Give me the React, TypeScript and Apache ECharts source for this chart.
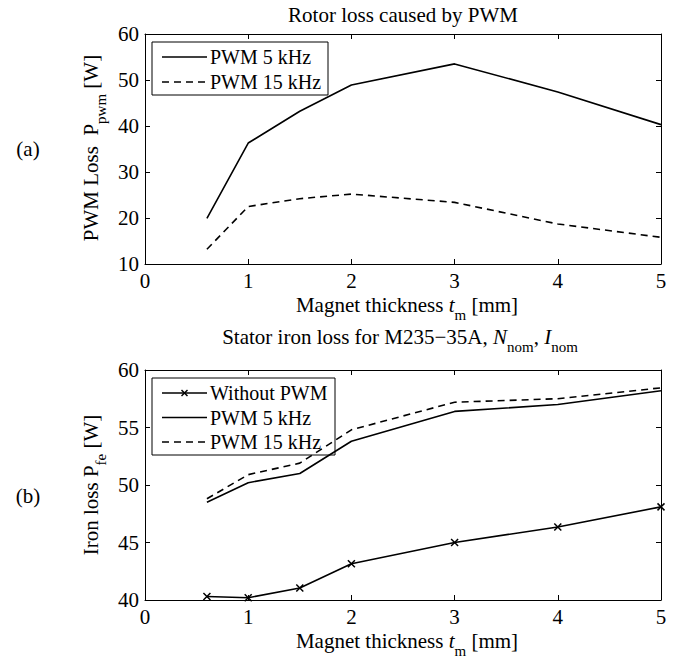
import React, { useEffect, useRef } from "react";
import * as echarts from "echarts";

const thickness = [0.6, 1, 1.5, 2, 3, 4, 5];
const rotorPwm5k = [19.9, 36.3, 43.2, 48.9, 53.5, 47.4, 40.3];
const rotorPwm15k = [13.2, 22.5, 24.2, 25.2, 23.4, 18.7, 15.8];
const ironWithout = [40.3, 40.2, 41.05, 43.15, 45.0, 46.35, 48.1];
const ironPwm5k = [48.5, 50.2, 51.0, 53.8, 56.4, 57.0, 58.2];
const ironPwm15k = [48.8, 50.9, 51.9, 54.8, 57.2, 57.5, 58.45];
const xTicks = [0, 1, 2, 3, 4, 5];
const rotorYRange = [10, 60, 10];
const ironYRange = [40, 60, 5];

const FONT = "Liberation Serif";

type Part = { t: string; it?: boolean; sub?: boolean };

const pairs = (xs: number[], ys: number[]) => xs.map((x, i) => [x, ys[i]]);

let measureCtx: CanvasRenderingContext2D | null = null;
function measure(text: string, size: number, italic: boolean) {
  if (!measureCtx) measureCtx = document.createElement("canvas").getContext("2d");
  if (!measureCtx) return text.length * size * 0.5;
  measureCtx.font = `${italic ? "italic " : ""}${size}px "${FONT}"`;
  return measureCtx.measureText(text).width;
}

function composed(cx: number, cy: number, parts: Part[], rotated: boolean, size = 21, subSize = 15, drop = 10) {
  const widths = parts.map((p) => measure(p.t, p.sub ? subSize : size, !!p.it));
  const total = widths.reduce((a, b) => a + b, 0);
  let s = -total / 2;
  const out: any[] = [];
  parts.forEach((p, i) => {
    const off = p.sub ? drop : 0;
    const x = rotated ? cx + off : cx + s;
    const y = rotated ? cy - s : cy + off;
    const fs = p.sub ? subSize : size;
    out.push({
      type: "text",
      x,
      y,
      rotation: rotated ? Math.PI / 2 : 0,
      style: {
        text: p.t,
        fill: "#000",
        fontFamily: FONT,
        fontSize: fs,
        lineHeight: Math.round(fs * 0.85),
        fontStyle: p.it ? "italic" : "normal",
        align: "left",
        verticalAlign: "middle",
      },
    });
    s += widths[i];
  });
  return out;
}

export default function App() {
  const ref = useRef<HTMLDivElement>(null);
  useEffect(() => {
    if (!ref.current) return;
    const chart = echarts.init(ref.current, undefined, { renderer: "svg" });
    const black = "#000";
    const tickFont = 21;
    const mkX = (gi: number, pos: "bottom" | "top", labels: boolean) => ({
      gridIndex: gi,
      type: "value",
      position: pos,
      min: xTicks[0],
      max: xTicks[xTicks.length - 1],
      interval: 1,
      axisLine: { show: true, onZero: false, lineStyle: { color: black, width: 1 } },
      axisTick: { show: true, inside: true, length: 5, lineStyle: { color: black } },
      axisLabel: { show: labels, color: black, fontFamily: FONT, fontSize: tickFont, lineHeight: 17, margin: 8 },
      splitLine: { show: false },
    });
    const mkY = (gi: number, pos: "left" | "right", labels: boolean, r: number[]) => ({
      gridIndex: gi,
      type: "value",
      position: pos,
      min: r[0],
      max: r[1],
      interval: r[2],
      axisLine: { show: true, onZero: false, lineStyle: { color: black, width: 1 } },
      axisTick: { show: true, inside: true, length: 5, lineStyle: { color: black } },
      axisLabel: { show: labels, color: black, fontFamily: FONT, fontSize: tickFont, lineHeight: 17, margin: 6 },
      splitLine: { show: false },
    });
    const lineSeries = (name: string, xi: number, yi: number, data: number[][], dashed: boolean, cross: boolean) => ({
      name,
      type: "line",
      xAxisIndex: xi,
      yAxisIndex: yi,
      data,
      symbol: cross ? "path://M0,0L10,10M10,0L0,10" : "none",
      symbolSize: 7,
      showSymbol: cross,
      itemStyle: { color: "none", borderColor: black, borderWidth: 1.5 },
      lineStyle: { color: black, width: 1.6, type: dashed ? [7, 5] : "solid" },
      z: 3,
    });

    const legendBox = (
      x: number,
      y: number,
      w: number,
      h: number,
      rows: { label: string; dashed: boolean; cross: boolean }[],
      firstY: number,
      step: number
    ) => {
      const children: any[] = [
        { type: "rect", shape: { x, y, width: w, height: h }, style: { fill: "#fff", stroke: black, lineWidth: 1 } },
      ];
      rows.forEach((r, i) => {
        const ry = firstY + i * step;
        children.push({
          type: "line",
          shape: { x1: x + 10, y1: ry, x2: x + 55, y2: ry },
          style: { stroke: black, lineWidth: 1.6, lineDash: r.dashed ? [7, 5] : null },
        });
        if (r.cross) {
          const cx = x + 32.5;
          children.push({
            type: "polyline",
            shape: { points: [[cx - 3, ry - 3], [cx + 3, ry + 3]] },
            style: { stroke: black, lineWidth: 1.5 },
          });
          children.push({
            type: "polyline",
            shape: { points: [[cx - 3, ry + 3], [cx + 3, ry - 3]] },
            style: { stroke: black, lineWidth: 1.5 },
          });
        }
        children.push({
          type: "text",
          x: x + 58,
          y: ry,
          style: { text: r.label, fill: black, fontFamily: FONT, fontSize: 20, lineHeight: 18, align: "left", verticalAlign: "middle" },
        });
      });
      return { type: "group", children };
    };

    chart.setOption({
      animation: false,
      grid: [
        { left: 145, top: 34, width: 516, height: 230 },
        { left: 145, top: 370, width: 516, height: 230 },
      ],
      xAxis: [mkX(0, "bottom", true), mkX(0, "top", false), mkX(1, "bottom", true), mkX(1, "top", false)],
      yAxis: [
        mkY(0, "left", true, rotorYRange),
        mkY(0, "right", false, rotorYRange),
        mkY(1, "left", true, ironYRange),
        mkY(1, "right", false, ironYRange),
      ],
      series: [
        lineSeries("PWM 5 kHz", 0, 0, pairs(thickness, rotorPwm5k), false, false),
        lineSeries("PWM 15 kHz", 0, 0, pairs(thickness, rotorPwm15k), true, false),
        lineSeries("Without PWM", 2, 2, pairs(thickness, ironWithout), false, true),
        lineSeries("PWM 5 kHz ", 2, 2, pairs(thickness, ironPwm5k), false, false),
        lineSeries("PWM 15 kHz ", 2, 2, pairs(thickness, ironPwm15k), true, false),
      ],
      graphic: [
        ...composed(403, 15, [{ t: "Rotor loss caused by PWM" }], false),
        ...composed(
          400,
          337,
          [
            { t: "Stator iron loss for M235−35A, " },
            { t: "N", it: true },
            { t: "nom", sub: true },
            { t: ", " },
            { t: "I", it: true },
            { t: "nom", sub: true },
          ],
          false
        ),
        ...composed(407, 305, [{ t: "Magnet thickness " }, { t: "t", it: true }, { t: "m", sub: true }, { t: " [mm]" }], false),
        ...composed(407, 641, [{ t: "Magnet thickness " }, { t: "t", it: true }, { t: "m", sub: true }, { t: " [mm]" }], false),
        ...composed(91, 148, [{ t: "PWM Loss  P" }, { t: "pwm", sub: true }, { t: " [W]" }], true),
        ...composed(91, 485, [{ t: "Iron loss P" }, { t: "fe", sub: true }, { t: " [W]" }], true),
        ...composed(28, 149, [{ t: "(a)" }], false),
        ...composed(28, 496, [{ t: "(b)" }], false),
        legendBox(
          152,
          42,
          176,
          53,
          [
            { label: "PWM 5 kHz", dashed: false, cross: false },
            { label: "PWM 15 kHz", dashed: true, cross: false },
          ],
          57,
          25
        ),
        legendBox(
          152,
          378,
          183,
          77,
          [
            { label: "Without PWM", dashed: false, cross: true },
            { label: "PWM 5 kHz", dashed: false, cross: false },
            { label: "PWM 15 kHz", dashed: true, cross: false },
          ],
          393,
          24.5
        ),
      ],
    });
    return () => chart.dispose();
  }, []);
  return <div ref={ref} style={{ width: 686, height: 660, position: "absolute", left: 0, top: 0, background: "#fff" }} />;
}
